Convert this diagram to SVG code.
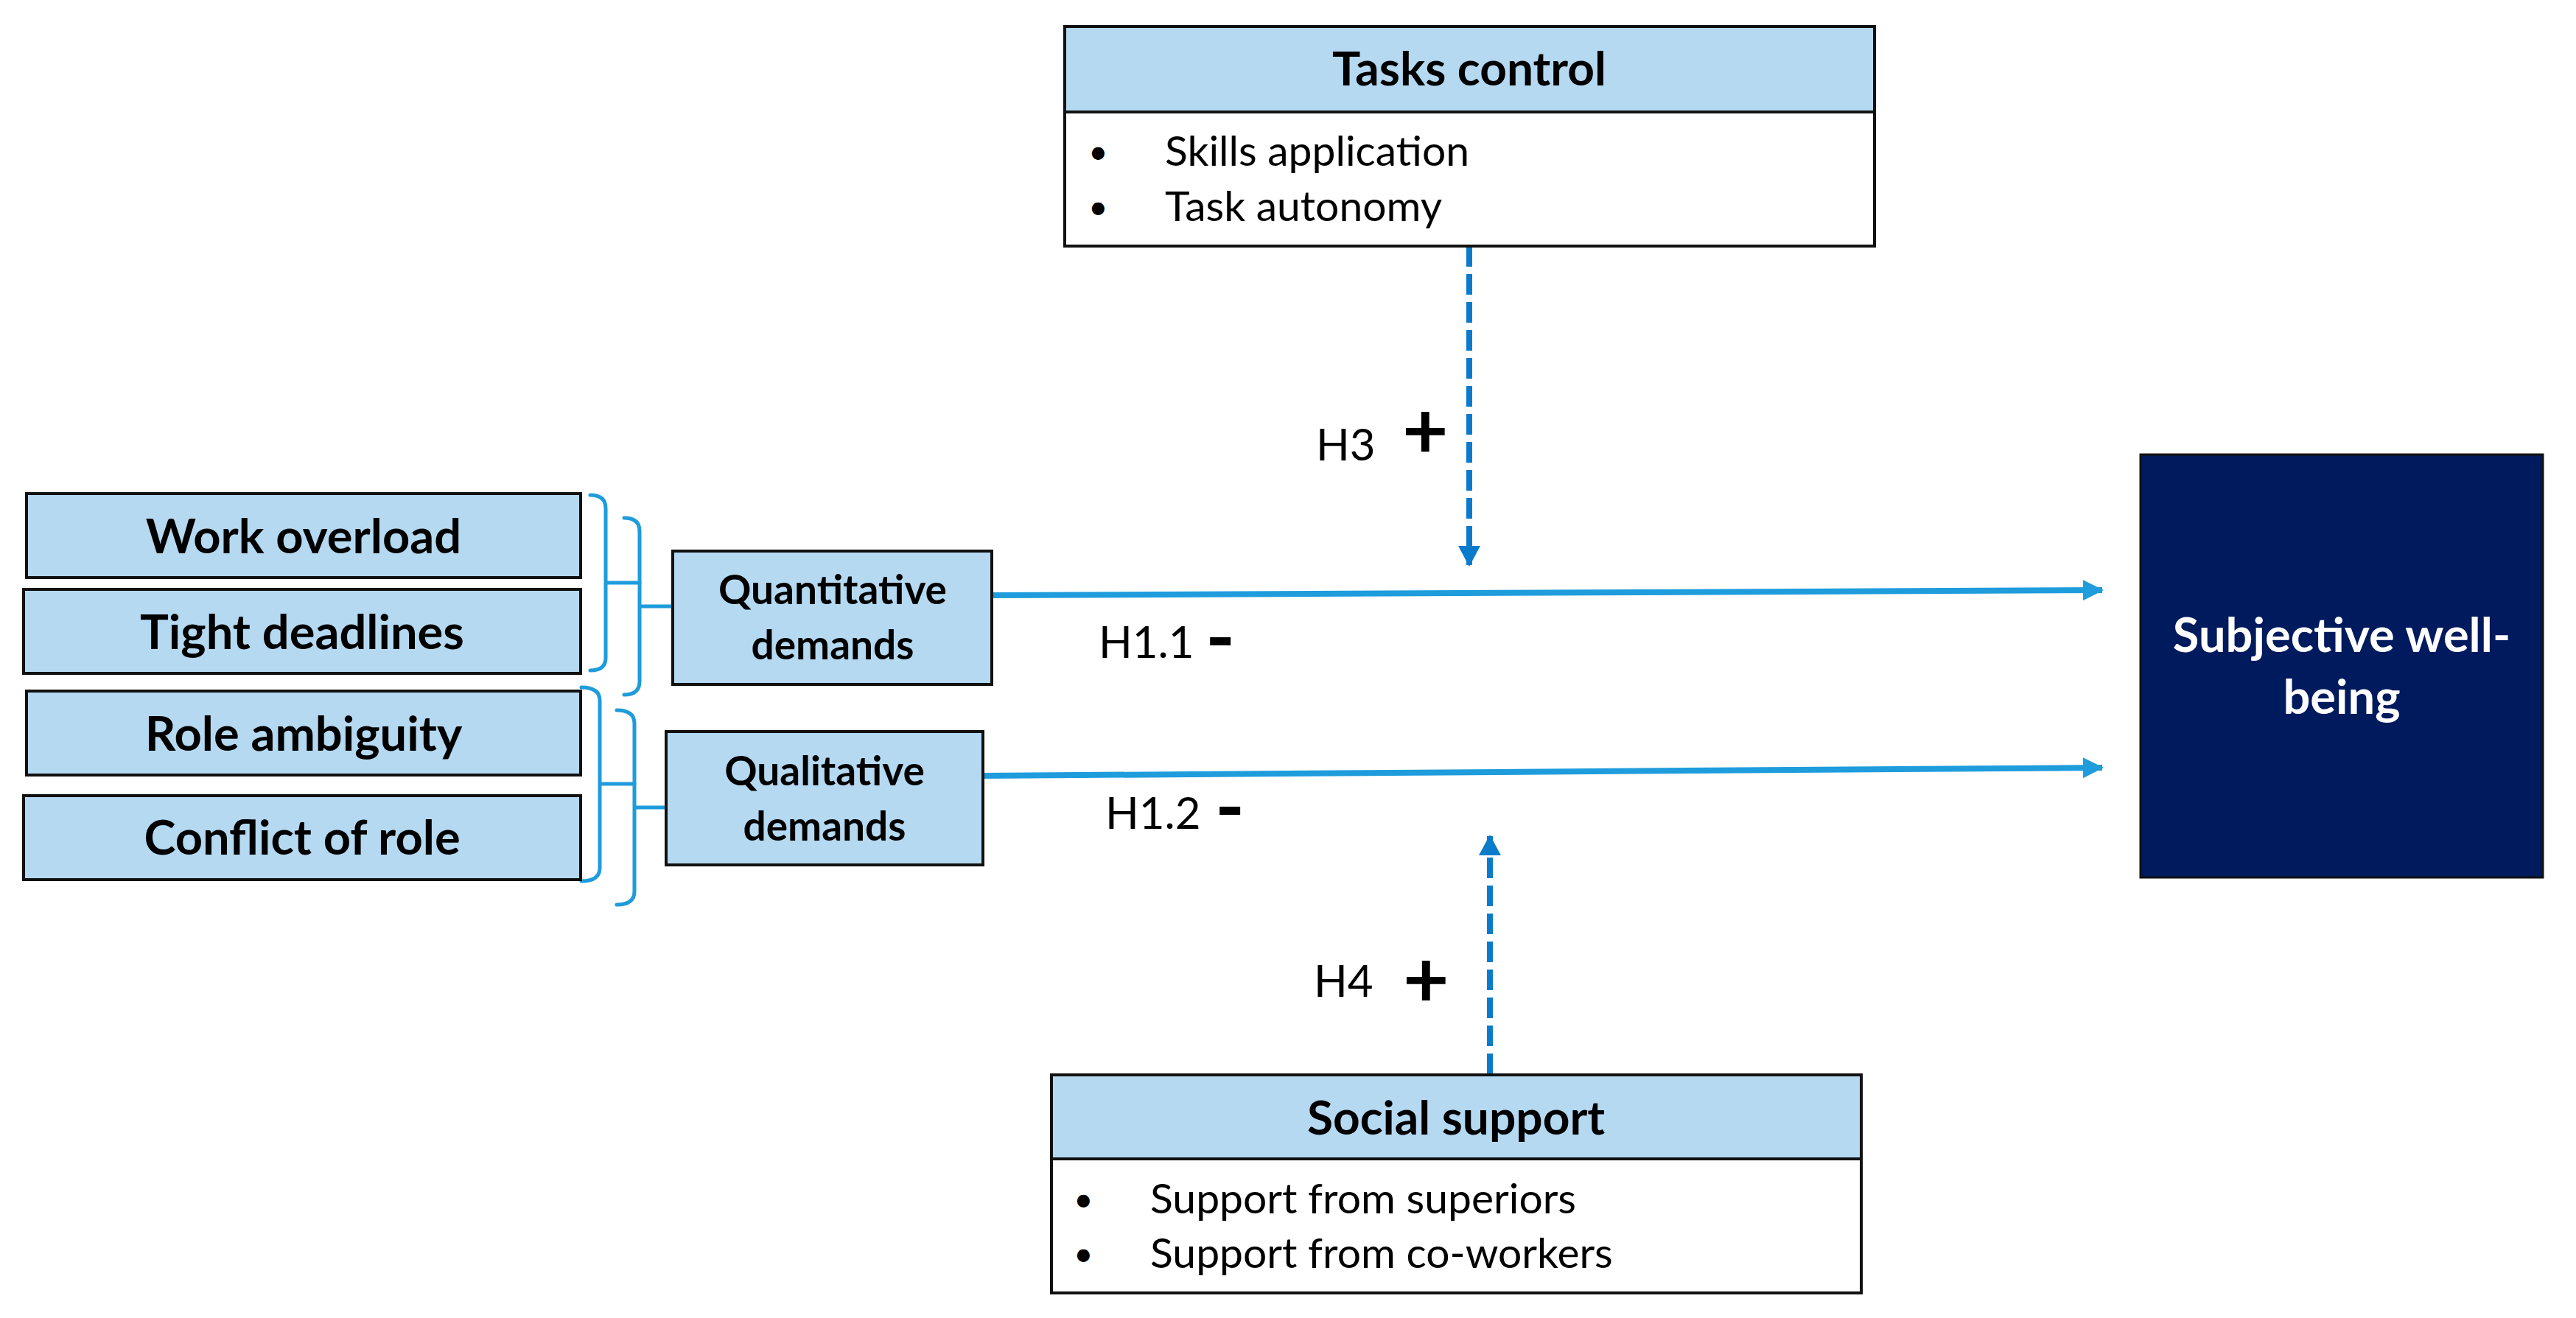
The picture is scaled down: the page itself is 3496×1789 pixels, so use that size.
<svg xmlns="http://www.w3.org/2000/svg" width="3496" height="1789" viewBox="0 0 3496 1789">
<style>
  .box{fill:#B5D9F1;stroke:#111;stroke-width:4}
  .wbox{fill:#fff;stroke:#111;stroke-width:4}
  .t{font-family:Lato,"Liberation Sans",sans-serif;fill:#000}
  .big{font-size:65px;font-weight:bold;text-anchor:middle}
  .mid{font-size:55px;font-weight:bold;text-anchor:middle}
  .hdr{font-size:64px;font-weight:bold;text-anchor:middle}
  .item{font-size:57px}
  .dot{font-size:46px}
  .lab{font-size:60px}
  .sign{font-size:108px;font-weight:bold}
  .minus{font-size:108px;font-weight:bold}
  .brace{fill:none;stroke:#1E9CDC;stroke-width:5;stroke-linecap:round}
  .solid{fill:none;stroke:#1E9CDC;stroke-width:8}
  .dash{fill:none;stroke:#0A7BCB;stroke-width:8;stroke-dasharray:28 10}
</style>
<defs>
  <marker id="ah" markerUnits="userSpaceOnUse" markerWidth="28" markerHeight="28" refX="26" refY="14" orient="auto">
    <path d="M0,0 L28,14 L0,28 Z" fill="#1E9CDC"/>
  </marker>
  <marker id="ahd" markerUnits="userSpaceOnUse" markerWidth="28" markerHeight="30" refX="26" refY="15" orient="auto">
    <path d="M0,0 L28,15 L0,30 Z" fill="#0A7BCB"/>
  </marker>
</defs>
<rect width="3496" height="1789" fill="#fff"/>

<g id="connectors">
  <path class="solid" d="M1347,808 L2853,801" marker-end="url(#ah)"/>
  <path class="solid" d="M1335,1053 L2853,1042" marker-end="url(#ah)"/>
  <path class="dash" d="M1994,334 L1994,767" marker-end="url(#ahd)"/>
  <path class="dash" d="M2022,1458 L2022,1135" marker-end="url(#ahd)"/>
  <path class="brace" d="M801,672 Q822,672 822,690 L822,893 Q822,910 801,910 M822,791 L868,791"/>
  <path class="brace" d="M847,703 Q868,703 868,721 L868,925 Q868,943 847,943 M868,823 L913,823"/>
  <path class="brace" d="M789,933 Q814,933 814,951 L814,1178 Q814,1196 789,1196 M814,1064 L861,1064"/>
  <path class="brace" d="M837,964 Q861,964 861,982 L861,1210 Q861,1228 837,1228 M861,1096 L905,1096"/>
</g>

<g id="labels">
  <text class="t lab" x="1786" y="625">H3</text>
  <text class="t sign" x="1903" y="622">+</text>
  <text class="t lab" x="1491" y="893">H1.1</text>
  <text class="t minus" x="1636" y="903">-</text>
  <text class="t lab" x="1500" y="1125">H1.2</text>
  <text class="t minus" x="1649" y="1133">-</text>
  <text class="t lab" x="1783" y="1353">H4</text>
  <text class="t sign" x="1904" y="1367">+</text>
</g>

<g id="tasks-control">
  <rect class="box" x="1445" y="36" width="1099" height="116"/>
  <rect class="wbox" x="1445" y="152" width="1099" height="182"/>
  <text class="t hdr" x="1994" y="116">Tasks control</text>
  <text class="t dot" x="1477" y="222">•</text>
  <text class="t item" x="1581" y="225">Skills application</text>
  <text class="t dot" x="1477" y="297">•</text>
  <text class="t item" x="1581" y="300">Task autonomy</text>
</g>

<g id="social-support">
  <rect class="box" x="1427" y="1459" width="1099" height="114"/>
  <rect class="wbox" x="1427" y="1573" width="1099" height="182"/>
  <text class="t hdr" x="1976" y="1540">Social support</text>
  <text class="t dot" x="1457" y="1644">•</text>
  <text class="t item" x="1561" y="1647">Support from superiors</text>
  <text class="t dot" x="1457" y="1718">•</text>
  <text class="t item" x="1561" y="1721">Support from co-workers</text>
</g>

<g id="work-overload">
  <rect class="box" x="36" y="670" width="752" height="114"/>
  <text class="t big" x="412" y="751">Work overload</text>
</g>
<g id="tight-deadlines">
  <rect class="box" x="32" y="800" width="756" height="114"/>
  <text class="t big" x="410" y="881">Tight deadlines</text>
</g>
<g id="role-ambiguity">
  <rect class="box" x="36" y="938" width="752" height="114"/>
  <text class="t big" x="412" y="1019">Role ambiguity</text>
</g>
<g id="conflict-of-role">
  <rect class="box" x="32" y="1080" width="756" height="114"/>
  <text class="t big" x="410" y="1160">Conflict of role</text>
</g>

<g id="quantitative-demands">
  <rect class="box" x="913" y="748" width="433" height="181"/>
  <text class="t mid" x="1130" y="820">Quantitative</text>
  <text class="t mid" x="1130" y="895">demands</text>
</g>
<g id="qualitative-demands">
  <rect class="box" x="904" y="993" width="430" height="181"/>
  <text class="t mid" x="1119" y="1066">Qualitative</text>
  <text class="t mid" x="1119" y="1141">demands</text>
</g>

<g id="subjective-well-being">
  <rect x="2905" y="617" width="546" height="574" fill="#001A5E" stroke="#111" stroke-width="3"/>
  <text class="t big" x="3178" y="885" style="fill:#fff">Subjective well-</text>
  <text class="t big" x="3178" y="969" style="fill:#fff">being</text>
</g>
</svg>
